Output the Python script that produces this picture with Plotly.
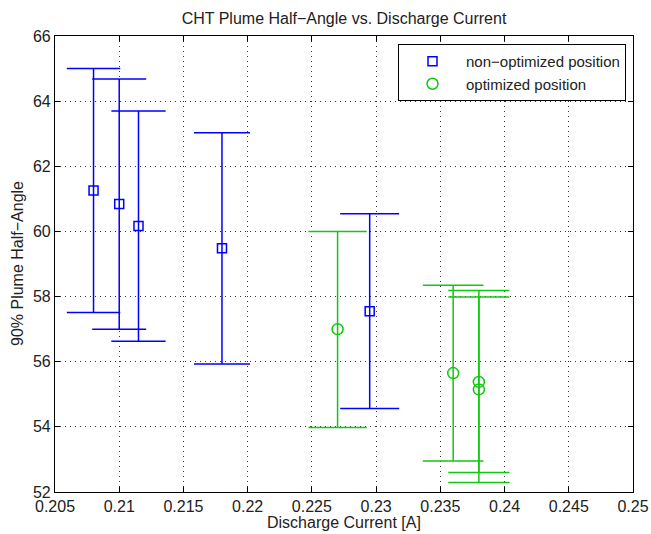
import plotly.graph_objects as go

# ---- data ----
x_nonopt = [0.2080, 0.2100, 0.2115, 0.2180, 0.2295]
y_nonopt = [61.26, 60.84, 60.17, 59.48, 57.55]
upper_nonopt = [65.00, 64.68, 63.70, 63.03, 60.54]
lower_nonopt = [57.51, 57.00, 56.63, 55.93, 54.56]

x_opt = [0.2270, 0.2360, 0.2380, 0.2380]
y_opt = [57.00, 55.65, 55.38, 55.15]
upper_opt = [60.00, 58.35, 58.19, 57.99]
lower_opt = [53.98, 52.95, 52.60, 52.29]

x_ticks = [0.205, 0.21, 0.215, 0.22, 0.225, 0.23, 0.235, 0.24, 0.245, 0.25]
x_tick_labels = ["0.205", "0.21", "0.215", "0.22", "0.225", "0.23", "0.235", "0.24", "0.245", "0.25"]
y_ticks = [52, 54, 56, 58, 60, 62, 64, 66]

# ---- layout geometry ----
W, H = 651, 534
ML, MR, MT, MB = 55, 18, 36, 42
plot_w = W - ML - MR
plot_h = H - MT - MB
x_range = [0.205, 0.25]
px_per_unit = plot_w / (x_range[1] - x_range[0])

BLUE = "#0000ff"
GREEN = "#10c810"
FONT = "Liberation Sans, Arial, Helvetica, sans-serif"
FS = 16
TXT = "#222222"

fig = go.Figure()


def add_series(xs, ys, ups, lows, name, color, symbol, msize):
    for i, (xv, yv, up, lo) in enumerate(zip(xs, ys, ups, lows)):
        cap = 0.01 * xv * px_per_unit  # cap half-width, 1% of x
        fig.add_trace(go.Scatter(
            x=[xv], y=[yv], mode="markers", name=name,
            legendgroup=name, showlegend=(i == 0),
            marker=dict(symbol=symbol, size=msize, color=color,
                        line=dict(color=color, width=1.5)),
            error_y=dict(type="data", symmetric=False,
                         array=[up - yv], arrayminus=[yv - lo],
                         color=color, thickness=1.5, width=cap),
        ))


add_series(x_nonopt, y_nonopt, upper_nonopt, lower_nonopt,
           "non\u2212optimized position", BLUE, "square-open", 9)
add_series(x_opt, y_opt, upper_opt, lower_opt,
           "optimized position", GREEN, "circle-open", 11)

axis_common = dict(
    showline=True, linecolor="black", linewidth=1.2, mirror="allticks",
    ticks="inside", ticklen=5, tickcolor="black", tickwidth=1,
    showgrid=True, gridcolor="#333333", gridwidth=1, griddash="1px,4px",
    zeroline=False, automargin=False,
    tickfont=dict(family=FONT, size=FS, color=TXT),
)

fig.update_layout(
    width=W, height=H,
    margin=dict(l=ML, r=MR, t=MT, b=MB, autoexpand=False),
    paper_bgcolor="white", plot_bgcolor="white",
    font=dict(family=FONT, size=FS, color=TXT),
    title=dict(text="CHT Plume Half\u2212Angle vs. Discharge Current",
               x=(ML + plot_w / 2) / W, xanchor="center",
               y=1 - 18 / H, yanchor="middle",
               font=dict(family=FONT, size=FS, color=TXT)),
    xaxis=dict(range=x_range, tickvals=x_ticks, ticktext=x_tick_labels,
               **axis_common),
    yaxis=dict(range=[52, 66], tickvals=y_ticks, **axis_common),
    annotations=[
        dict(text="Discharge Current [A]", xref="paper", yref="paper",
             x=0.5, y=-(522 - MT - plot_h) / plot_h, xanchor="center",
             yanchor="middle", showarrow=False,
             font=dict(family=FONT, size=FS, color=TXT)),
        dict(text="90% Plume Half\u2212Angle", xref="paper", yref="paper",
             x=-(ML - 17) / plot_w, y=0.5, xanchor="center",
             yanchor="middle", showarrow=False, textangle=-90,
             font=dict(family=FONT, size=FS, color=TXT)),
    ],
    legend=dict(x=(626 - ML) / plot_w, xanchor="right",
                y=1 - (44 - MT) / plot_h, yanchor="top",
                bgcolor="white", bordercolor="black", borderwidth=1,
                font=dict(family=FONT, size=15, color=TXT),
                tracegroupgap=0, itemwidth=57),
    showlegend=True,
)

fig.write_html("out.html",
               config={"displayModeBar": False},
               post_script="document.body.style.margin='0px';"
                           "document.body.style.padding='0px';")
